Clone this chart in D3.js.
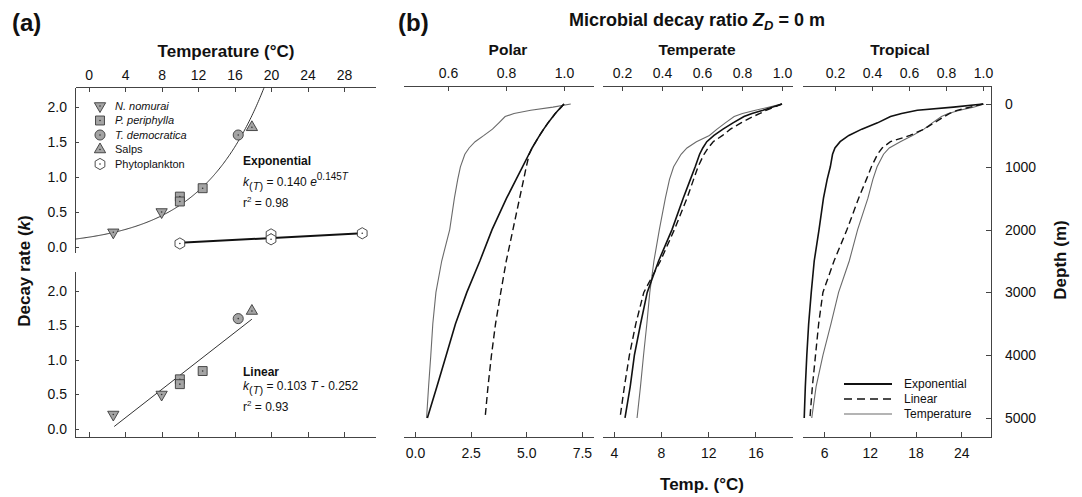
<!DOCTYPE html>
<html><head><meta charset="utf-8">
<script src="https://cdn.jsdelivr.net/npm/d3@7"></script>
<style>
body{margin:0;background:#fff}
svg{display:block}
text{font-family:Arial,"Liberation Sans",sans-serif;fill:#111}
.axis path,.axis line{stroke:#444;stroke-width:1;shape-rendering:crispEdges}
.axis text{font-size:14px;fill:#111}
</style>
</head><body>
<svg id="c" width="1082" height="497"></svg>
<script>
// ---------- Panel (a) data ----------
const tempTicksA = [0, 4, 8, 12, 16, 20, 24, 28];
const kTicks = [0, 0.5, 1.0, 1.5, 2.0];
const nomuraiT = [2.7, 8.0], nomuraiK = [0.21, 0.50];
const periphyllaT = [10.0, 10.0, 12.5], periphyllaK = [0.72, 0.65, 0.84];
const democraticaT = [16.4], democraticaK = [1.60];
const salpsT = [17.9], salpsK = [1.71];
const phytoT = [10, 20, 20, 30], phytoK = [0.05, 0.18, 0.11, 0.196];
const legendNames = ["N. nomurai", "P. periphylla", "T. democratica", "Salps", "Phytoplankton"];
const expFit = [0.140, 0.145];      // k = a * e^(b T)
const linFit = [0.103, -0.252];     // k = a T + b
const linFitT = [2.8, 17.9];
const phytoFit = [0.0068, -0.008];
const phytoFitT = [10, 30];

// ---------- Panel (b) data ----------
const depth = [0, 50, 100, 150, 200, 300, 400, 500, 600, 700, 800, 1000, 1200, 1500, 2000, 2500, 3000, 3500, 4000, 4500, 5000];
const polarExp  = [1.0, 0.99, 0.98, 0.97, 0.962, 0.945, 0.93, 0.916, 0.903, 0.89, 0.879, 0.857, 0.835, 0.802, 0.752, 0.71, 0.665, 0.626, 0.594, 0.562, 0.529];
const polarLin  = [1.0, 0.99, 0.98, 0.97, 0.962, 0.945, 0.93, 0.916, 0.903, 0.89, 0.88, 0.87, 0.861, 0.847, 0.824, 0.801, 0.782, 0.764, 0.75, 0.738, 0.728];
const polarTemp = [7.0, 6.2, 5.2, 4.45, 4.05, 3.77, 3.48, 3.1, 2.7, 2.43, 2.24, 2.04, 1.92, 1.77, 1.56, 1.2, 0.94, 0.8, 0.71, 0.61, 0.52];
const temperateExp  = [1.0, 0.95, 0.905, 0.85, 0.81, 0.755, 0.705, 0.66, 0.624, 0.604, 0.588, 0.566, 0.542, 0.506, 0.45, 0.383, 0.326, 0.293, 0.262, 0.241, 0.215];
const temperateLin  = [1.0, 0.96, 0.92, 0.89, 0.855, 0.795, 0.742, 0.703, 0.656, 0.631, 0.61, 0.58, 0.558, 0.525, 0.462, 0.392, 0.309, 0.269, 0.237, 0.212, 0.19];
const temperateTemp = [18.2, 17.1, 16.0, 14.9, 14.2, 13.45, 12.75, 12.1, 11.0, 10.2, 9.7, 9.07, 8.72, 8.37, 7.86, 7.4, 7.05, 6.8, 6.52, 6.26, 5.97];
const tropicalExp  = [1.0, 0.84, 0.645, 0.56, 0.5, 0.43, 0.345, 0.275, 0.228, 0.2, 0.187, 0.175, 0.158, 0.138, 0.114, 0.088, 0.072, 0.058, 0.048, 0.04, 0.034];
const tropicalLin  = [1.0, 0.93, 0.86, 0.82, 0.79, 0.735, 0.682, 0.605, 0.5, 0.455, 0.43, 0.397, 0.37, 0.328, 0.265, 0.195, 0.135, 0.112, 0.095, 0.078, 0.065];
const tropicalTemp = [27.0, 25.6, 23.8, 22.3, 21.4, 20.2, 19.1, 17.6, 16.0, 14.55, 13.8, 12.95, 12.4, 11.75, 10.4, 9.3, 7.9, 6.9, 5.85, 4.95, 4.38];
const ratioTicksPolar = [0.6, 0.8, 1.0];
const ratioTicks = [0.2, 0.4, 0.6, 0.8, 1.0];
const tempTicksPolar = [0.0, 2.5, 5.0, 7.5];
const tempTicksTemperate = [4, 8, 12, 16];
const tempTicksTropical = [6, 12, 18, 24];
const depthTicks = [0, 1000, 2000, 3000, 4000, 5000];
const zoneNames = ["Polar", "Temperate", "Tropical"];
const lineLegend = ["Exponential", "Linear", "Temperature"];

const svg = d3.select("#c");

// ================= Panel (a) =================
const xA = d3.scaleLinear().domain([-1.5, 31.4]).range([75, 375]);
const yA1 = d3.scaleLinear().domain([-0.0714, 2.2857]).range([252, 87]);
const yA2 = d3.scaleLinear().domain([-0.116, 2.29]).range([437, 271]);

svg.append("g").attr("class", "axis").attr("transform", "translate(0,87)")
  .call(d3.axisTop(xA).tickValues(tempTicksA).tickSizeInner(-5).tickSizeOuter(0).tickPadding(7).tickFormat(d3.format("d")));
svg.append("g").attr("class", "axis").attr("transform", "translate(75,0)")
  .call(d3.axisLeft(yA1).tickValues(kTicks).tickSizeInner(-4).tickSizeOuter(0).tickPadding(8).tickFormat(d3.format(".1f")));
svg.append("g").attr("class", "axis").attr("transform", "translate(75,0)")
  .call(d3.axisLeft(yA2).tickValues(kTicks).tickSizeInner(-4).tickSizeOuter(0).tickPadding(8).tickFormat(d3.format(".1f")));
svg.append("g").attr("class", "axis").attr("transform", "translate(0,437)")
  .call(d3.axisBottom(xA).tickValues(tempTicksA).tickSizeInner(-5).tickSizeOuter(0).tickFormat(""));

svg.append("text").attr("x", 12).attr("y", 31).attr("font-size", 24).attr("font-weight", "bold").text("(a)");
svg.append("text").attr("x", 226).attr("y", 57).attr("text-anchor", "middle").attr("font-size", 17).attr("font-weight", "bold").text("Temperature (°C)");
const yl = svg.append("text").attr("transform", "translate(30,271) rotate(-90)").attr("text-anchor", "middle").attr("font-size", 17).attr("font-weight", "bold");
yl.append("tspan").text("Decay rate (");
yl.append("tspan").attr("font-style", "italic").text("k");
yl.append("tspan").text(")");

// clip for top plot
svg.append("clipPath").attr("id", "clipA1").append("rect").attr("x", 75).attr("y", 87).attr("width", 300).attr("height", 165);

// exponential fit curve
const expCurve = d3.range(-1.5, 21.01, 0.1).map(T => [T, expFit[0] * Math.exp(expFit[1] * T)]);
svg.append("path").attr("clip-path", "url(#clipA1)")
  .attr("d", d3.line().x(d => xA(d[0])).y(d => yA1(d[1]))(expCurve))
  .attr("fill", "none").attr("stroke", "#333").attr("stroke-width", 1);
// phytoplankton fit
svg.append("path")
  .attr("d", d3.line().x(d => xA(d)).y(d => yA1(phytoFit[0] * d + phytoFit[1]))(phytoFitT))
  .attr("fill", "none").attr("stroke", "#111").attr("stroke-width", 2);
// linear fit
svg.append("path")
  .attr("d", d3.line().x(d => xA(d)).y(d => yA2(linFit[0] * d + linFit[1]))(linFitT))
  .attr("fill", "none").attr("stroke", "#333").attr("stroke-width", 1);

function hexPath(r) {
  const pts = d3.range(6).map(i => { const a = (-90 + 60 * i) * Math.PI / 180; return [r * Math.cos(a), r * Math.sin(a)]; });
  return "M" + pts.map(p => p.join(",")).join("L") + "Z";
}
function marker(g, kind, x, y) {
  const m = g.append("g").attr("transform", `translate(${x},${y})`);
  let p;
  if (kind === "tdown") p = m.append("path").attr("d", d3.symbol(d3.symbolTriangle, 55)()).attr("transform", "rotate(180)");
  else if (kind === "tup") p = m.append("path").attr("d", d3.symbol(d3.symbolTriangle, 55)());
  else if (kind === "square") p = m.append("path").attr("d", d3.symbol(d3.symbolSquare, 80)());
  else if (kind === "circle") p = m.append("path").attr("d", d3.symbol(d3.symbolCircle, 80)());
  else p = m.append("path").attr("d", hexPath(5.6));
  p.attr("fill", kind === "hex" ? "#fff" : "#a4a4a4").attr("stroke", "#3a3a3a").attr("stroke-width", 0.9);
  m.append("circle").attr("r", 0.8).attr("fill", "#333");
}
const species = [
  {kind: "tdown", T: nomuraiT, K: nomuraiK},
  {kind: "square", T: periphyllaT, K: periphyllaK},
  {kind: "circle", T: democraticaT, K: democraticaK},
  {kind: "tup", T: salpsT, K: salpsK}
];
const gm = svg.append("g");
species.forEach(s => s.T.forEach((t, i) => marker(gm, s.kind, xA(t), yA1(s.K[i]))));
phytoT.forEach((t, i) => marker(gm, "hex", xA(t), yA1(phytoK[i])));
species.forEach(s => s.T.forEach((t, i) => marker(gm, s.kind, xA(t), yA2(s.K[i]))));

// legend (a)
const legKinds = ["tdown", "square", "circle", "tup", "hex"];
legendNames.forEach((n, i) => {
  const y = 106 + i * 14.5;
  marker(gm, legKinds[i], 100, y);
  svg.append("text").attr("x", 115).attr("y", y).attr("dy", "0.36em").attr("font-size", 11)
    .attr("font-style", i < 3 ? "italic" : "normal").text(n);
});

// equation texts
function eqK(t) {
  t.append("tspan").attr("font-style", "italic").text("k");
  t.append("tspan").attr("dy", 4).attr("font-size", 11).text("(");
  t.append("tspan").attr("font-size", 11).attr("font-style", "italic").text("T");
  t.append("tspan").attr("font-size", 11).text(")");
}
svg.append("text").attr("x", 243).attr("y", 165).attr("font-size", 12).attr("font-weight", "bold").text("Exponential");
const e1 = svg.append("text").attr("x", 243).attr("y", 186).attr("font-size", 12);
eqK(e1);
e1.append("tspan").attr("dy", -4).text(" = 0.140 ");
e1.append("tspan").attr("font-style", "italic").text("e");
e1.append("tspan").attr("dy", -6).attr("font-size", 10).text("0.145");
e1.append("tspan").attr("font-size", 10).attr("font-style", "italic").text("T");
const r1 = svg.append("text").attr("x", 243).attr("y", 207).attr("font-size", 12);
r1.append("tspan").text("r");
r1.append("tspan").attr("dy", -5).attr("font-size", 8).text("2");
r1.append("tspan").attr("dy", 5).text(" = 0.98");

svg.append("text").attr("x", 243).attr("y", 376).attr("font-size", 12).attr("font-weight", "bold").text("Linear");
const e2 = svg.append("text").attr("x", 243).attr("y", 390).attr("font-size", 12);
eqK(e2);
e2.append("tspan").attr("dy", -4).text(" = 0.103 ");
e2.append("tspan").attr("font-style", "italic").text("T");
e2.append("tspan").text(" - 0.252");
const r2 = svg.append("text").attr("x", 243).attr("y", 411).attr("font-size", 12);
r2.append("tspan").text("r");
r2.append("tspan").attr("dy", -5).attr("font-size", 8).text("2");
r2.append("tspan").attr("dy", 5).text(" = 0.93");

// ================= Panel (b) =================
const yD = d3.scaleLinear().domain([-287, 5303]).range([86, 437]);
const zones = [
  {name: zoneNames[0], range: [403, 593], rDom: [0.445, 1.1], tDom: [-0.54, 8.0], rTicks: ratioTicksPolar, tTicks: tempTicksPolar, tFmt: ".1f",
   exp: polarExp, lin: polarLin, temp: polarTemp, tx: 508},
  {name: zoneNames[1], range: [602, 792], rDom: [0.1, 1.05], tDom: [3.0, 19.1], rTicks: ratioTicks, tTicks: tempTicksTemperate, tFmt: "d",
   exp: temperateExp, lin: temperateLin, temp: temperateTemp, tx: 697},
  {name: zoneNames[2], range: [802, 991], rDom: [0.022, 1.043], tDom: [3.1, 27.9], rTicks: ratioTicks, tTicks: tempTicksTropical, tFmt: "d",
   exp: tropicalExp, lin: tropicalLin, temp: tropicalTemp, tx: 900}
];
zones.forEach(z => {
  const xr = d3.scaleLinear().domain(z.rDom).range(z.range);
  const xt = d3.scaleLinear().domain(z.tDom).range(z.range);
  svg.append("g").attr("class", "axis").attr("transform", "translate(0,86)")
    .call(d3.axisTop(xr).tickValues(z.rTicks).tickSizeInner(-5).tickSizeOuter(0).tickPadding(8).tickFormat(d3.format(".1f")));
  svg.append("g").attr("class", "axis").attr("transform", "translate(0,437)")
    .call(d3.axisBottom(xt).tickValues(z.tTicks).tickSizeInner(-5).tickSizeOuter(0).tickPadding(11).tickFormat(d3.format(z.tFmt)));
  svg.append("text").attr("x", z.tx).attr("y", 55).attr("text-anchor", "middle").attr("font-size", 15.5).attr("font-weight", "bold").text(z.name);
  svg.append("path").attr("d", d3.line().x((d, i) => xt(z.temp[i])).y(d => yD(d))(depth))
    .attr("fill", "none").attr("stroke", "#6a6a6a").attr("stroke-width", 1.1);
  svg.append("path").attr("d", d3.line().x((d, i) => xr(z.lin[i])).y(d => yD(d))(depth))
    .attr("fill", "none").attr("stroke", "#111").attr("stroke-width", 1.4).attr("stroke-dasharray", "7,4");
  svg.append("path").attr("d", d3.line().x((d, i) => xr(z.exp[i])).y(d => yD(d))(depth))
    .attr("fill", "none").attr("stroke", "#111").attr("stroke-width", 1.6);
});
svg.append("g").attr("class", "axis").attr("transform", "translate(991,0)")
  .call(d3.axisRight(yD).tickValues(depthTicks).tickSizeInner(-5).tickSizeOuter(0).tickPadding(14).tickFormat(d3.format("d")));

svg.append("text").attr("x", 398).attr("y", 31).attr("font-size", 24).attr("font-weight", "bold").text("(b)");
const tb = svg.append("text").attr("x", 697).attr("y", 26).attr("text-anchor", "middle").attr("font-size", 18).attr("font-weight", "bold");
tb.append("tspan").text("Microbial decay ratio ");
tb.append("tspan").attr("font-style", "italic").text("Z");
tb.append("tspan").attr("font-style", "italic").attr("font-size", 13).attr("dy", 4).text("D");
tb.append("tspan").attr("dy", -4).text(" = 0 m");
svg.append("text").attr("x", 702).attr("y", 490).attr("text-anchor", "middle").attr("font-size", 17).attr("font-weight", "bold").text("Temp. (°C)");
svg.append("text").attr("transform", "translate(1066,260) rotate(-90)").attr("text-anchor", "middle").attr("font-size", 17).attr("font-weight", "bold").text("Depth (m)");

// legend (b)
const lStyles = [{c: "#111", w: 1.8, d: null}, {c: "#111", w: 1.4, d: "8,5"}, {c: "#6a6a6a", w: 1.1, d: null}];
lineLegend.forEach((n, i) => {
  const y = 384 + i * 15;
  const l = svg.append("line").attr("x1", 844).attr("x2", 892).attr("y1", y).attr("y2", y)
    .attr("stroke", lStyles[i].c).attr("stroke-width", lStyles[i].w);
  if (lStyles[i].d) l.attr("stroke-dasharray", lStyles[i].d);
  svg.append("text").attr("x", 904).attr("y", y).attr("dy", "0.36em").attr("font-size", 12).text(n);
});
</script>
</body></html>
